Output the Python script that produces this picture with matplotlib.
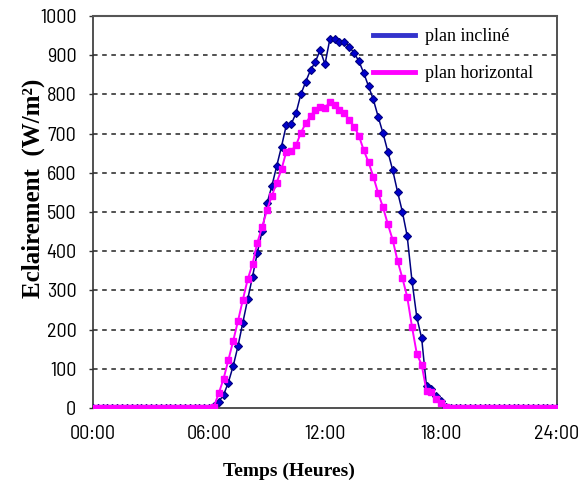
import numpy as np
import matplotlib
matplotlib.use("Agg")
import matplotlib.pyplot as plt
from matplotlib.lines import Line2D
from matplotlib import font_manager

# time grid: every 15 minutes from 00:00 to 24:00 (hours)
hours = np.arange(0, 24.01, 0.25)

plan_incline = [
    0, 0, 0, 0, 0, 0, 0, 0, 0, 0, 0, 0, 0, 0, 0, 0, 0, 0, 0, 0, 0, 0, 0, 0, 0,
    4, 16, 33, 65, 107, 158, 218, 277, 335, 396, 452, 522, 566, 617, 667, 722,
    724, 752, 800, 832, 862, 883, 913, 877, 941, 941, 934, 934, 922, 906, 885, 855,
    821, 787, 743, 701, 654, 607, 552, 501, 439, 324, 231, 178, 55, 48, 31, 18, 3,
    0, 0, 0, 0, 0, 0, 0, 0, 0, 0, 0, 0, 0, 0, 0, 0, 0, 0, 0, 0, 0, 0, 0,
]
plan_horizontal = [
    0, 0, 0, 0, 0, 0, 0, 0, 0, 0, 0, 0, 0, 0, 0, 0, 0, 0, 0, 0, 0, 0, 0, 0, 0,
    3, 37, 74, 122, 171, 222, 276, 328, 367, 422, 462, 505, 541, 575, 609, 654,
    656, 670, 702, 726, 745, 760, 769, 765, 781, 773, 760, 752, 735, 718, 695, 658,
    627, 590, 548, 512, 469, 429, 376, 332, 284, 207, 138, 110, 44, 42, 23, 12, 2,
    0, 0, 0, 0, 0, 0, 0, 0, 0, 0, 0, 0, 0, 0, 0, 0, 0, 0, 0, 0, 0, 0, 0,
]
series_names = ["plan incliné", "plan horizontal"]
x_ticks = [0, 6, 12, 18, 24]
x_tick_labels = ["00:00", "06:00", "12:00", "18:00", "24:00"]
y_ticks = [0, 100, 200, 300, 400, 500, 600, 700, 800, 900, 1000]

names = {f.name for f in font_manager.fontManager.ttflist}
tick_font = "Liberation Sans"
for cand in ["Liberation Sans Narrow", "Barlow Semi Condensed", "Archivo Narrow", "Asap Condensed"]:
    if cand in names:
        tick_font = cand
        break
serif = "Liberation Serif"

fig = plt.figure(figsize=(5.8, 4.88), dpi=100)
ax = fig.add_axes([93/580, 1-408/488, (557-93)/580, (408-16)/488])

for y in y_ticks[1:-1]:
    ax.axhline(y, color="#222222", lw=1.1, ls=(0, (3, 3)), zorder=1)

ax.plot(hours, plan_incline, color="#000080", lw=1.1, marker="D", ms=4.5,
        mfc="#0000CC", mec="#000080", mew=0.8, zorder=3)
ax.plot(hours, plan_horizontal, color="#FF00FF", lw=1.4, marker="s", ms=5,
        mfc="#FF00FF", mec="#FF00FF", zorder=4)

ax.set_xlim(0, 24)
ax.set_ylim(0, 1000)
ax.set_xticks(x_ticks)
ax.set_xticklabels(x_tick_labels)
ax.set_yticks(y_ticks)
for lab in ax.get_xticklabels() + ax.get_yticklabels():
    lab.set_family(tick_font)
    lab.set_fontsize(14.5)
    lab.set_weight("normal")
    lab.set_color("black")
ax.tick_params(axis="y", direction="out", length=3, width=1, pad=9, color="#333333")
ax.tick_params(axis="x", direction="out", length=0, pad=12)

for s in ax.spines.values():
    s.set_color("#333333")
    s.set_linewidth(1.2)
ax.spines["top"].set_color("#555555")
ax.spines["top"].set_linewidth(1.5)

fig.text(289/580, 1-471/488, "Temps (Heures)", family=serif, weight="bold",
         fontsize=14, ha="center", va="center")
fig.text(33/580, 1-188/488, "Eclairement  (W/m²)", family=serif, weight="bold",
         fontsize=18, ha="center", va="center", rotation=90)

handles = [Line2D([], [], color="#3333CC", lw=3.5),
           Line2D([], [], color="#FF00FF", lw=3.5)]
leg = ax.legend(handles, series_names, loc="upper left",
                bbox_to_anchor=((373-93)/464, (408-28)/392), frameon=False,
                prop={"family": serif, "size": 13}, handlelength=2.35,
                handletextpad=0.55, labelspacing=1.12, borderaxespad=0, borderpad=0)
leg.set_zorder(5)

fig.savefig("out.png", dpi=100)
